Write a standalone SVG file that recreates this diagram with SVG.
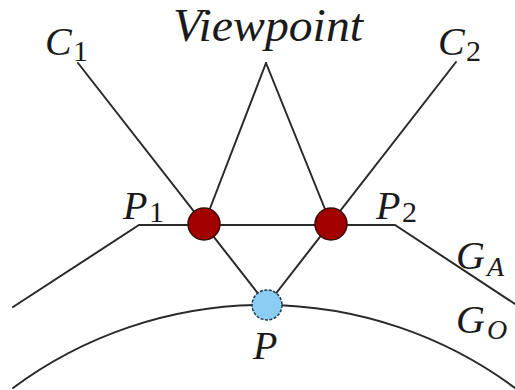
<svg xmlns="http://www.w3.org/2000/svg" width="515" height="390" viewBox="0 0 515 390">
<style>
.ln{fill:none;stroke:#2a2a2a;stroke-width:2;stroke-linecap:round;stroke-linejoin:miter}
.red{fill:#a30000;stroke:#3a0a0a;stroke-width:1.5}
.blue{fill:#8ccdf3;stroke:#1e3a4a;stroke-width:1.5;stroke-dasharray:3 1.5}
</style>
<rect width="515" height="390" fill="#ffffff"/>
<g id="connectors">
<path class="ln" d="M13,307 L139,225 L395,225 L515,304"/>
<path class="ln" d="M13,388 A421,421 0 0 1 515,388"/>
<line class="ln" x1="78" y1="63" x2="267" y2="305"/>
<line class="ln" x1="456" y1="62" x2="267" y2="305"/>
<line class="ln" x1="266" y1="63" x2="204" y2="224"/>
<line class="ln" x1="266" y1="63" x2="331" y2="224"/>
</g>
<g font-family="'Liberation Serif', serif" fill="#1a1a1a">
<g id="C1"><text x="45" y="55" font-style="italic" font-size="40">C</text><text x="73" y="61" font-size="30">1</text></g>
<g id="C2"><text x="438" y="55" font-style="italic" font-size="40">C</text><text x="466" y="61" font-size="30">2</text></g>
<g id="Viewpoint"><text x="173" y="41" font-style="italic" font-size="46" textLength="190" lengthAdjust="spacingAndGlyphs">Viewpoint</text></g>
<g id="P1"><circle class="red" cx="204" cy="224" r="16"/><text x="123" y="219" font-style="italic" font-size="40">P</text><text x="149" y="222" font-size="30">1</text></g>
<g id="P2"><circle class="red" cx="331" cy="224" r="16"/><text x="376" y="219" font-style="italic" font-size="40">P</text><text x="402" y="222" font-size="30">2</text></g>
<g id="P"><circle class="blue" cx="267" cy="305" r="15"/><text x="253" y="359" font-style="italic" font-size="40">P</text></g>
<g id="GA"><text x="456" y="269" font-style="italic" font-size="40">G</text><text x="487" y="276" font-style="italic" font-size="28">A</text></g>
<g id="GO"><text x="456" y="333" font-style="italic" font-size="40">G</text><text x="487" y="339" font-style="italic" font-size="28">O</text></g>
</g>
</svg>
